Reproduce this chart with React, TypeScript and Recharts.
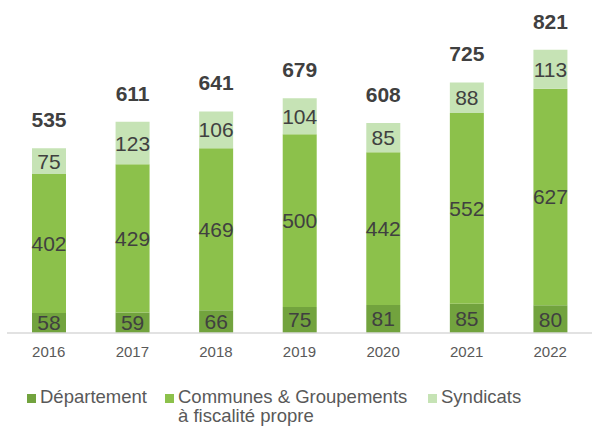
import React from 'react';
import { BarChart, Bar, XAxis, YAxis, LabelList, Legend } from 'recharts';

const years = ['2016', '2017', '2018', '2019', '2020', '2021', '2022'];
const departement = [58, 59, 66, 75, 81, 85, 80];
const communes = [402, 429, 469, 500, 442, 552, 627];
const syndicats = [75, 123, 106, 104, 85, 88, 113];
const totals = [535, 611, 641, 679, 608, 725, 821];

const seriesNames = ['Département', 'Communes & Groupements', 'Syndicats'];
const COLORS = ['#72A33E', '#8CC14B', '#C6E3B5'];

const data = years.map((y, i) => ({
  year: y,
  dep: departement[i],
  com: communes[i],
  syn: syndicats[i],
  total: totals[i],
}));

const FONT = '"Liberation Sans", Arial, sans-serif';

const LegendContent = () => {
  const items = [
    { left: 27, lines: [seriesNames[0]], color: COLORS[0] },
    { left: 165, lines: [seriesNames[1], 'à fiscalité propre'], color: COLORS[1] },
    { left: 428, lines: [seriesNames[2]], color: COLORS[2] },
  ];
  return (
    <div style={{ position: 'relative', width: 597, height: 72, fontFamily: FONT }}>
      {items.map((it, i) => (
        <div key={i}>
          <div
            style={{
              position: 'absolute',
              left: it.left,
              top: 31,
              width: 9,
              height: 9,
              background: it.color,
            }}
          />
          <div
            style={{
              position: 'absolute',
              left: it.left + 13,
              top: 24,
              fontSize: 18.5,
              lineHeight: '19px',
              color: '#595959',
              whiteSpace: 'nowrap',
            }}
          >
            {it.lines.map((l, j) => (
              <div key={j}>{l}</div>
            ))}
          </div>
        </div>
      ))}
    </div>
  );
};

export default function App() {
  return (
    <div style={{ position: 'absolute', left: 0, top: 0 }}>
      <BarChart
        width={597}
        height={435}
        data={data}
        margin={{ top: 22, right: 5, bottom: 0, left: 7 }}
        style={{ fontFamily: FONT }}
      >
        <XAxis
          dataKey="year"
          height={30}
          tickLine={false}
          tickMargin={7}
          axisLine={{ stroke: '#d9d9d9', strokeWidth: 1.5 }}
          tick={{ fill: '#595959', fontSize: 15 }}
        />
        <YAxis hide domain={[0, 900]} />
        <Legend
          verticalAlign="bottom"
          content={<LegendContent />}
          wrapperStyle={{ left: 0, bottom: 0, width: 597, height: 72 }}
        />
        <Bar dataKey="dep" name={seriesNames[0]} stackId="a" fill={COLORS[0]} barSize={34} isAnimationActive={false}>
          <LabelList dataKey="dep" position="center" fill="#404040" fontSize={21} />
        </Bar>
        <Bar dataKey="com" name={seriesNames[1]} stackId="a" fill={COLORS[1]} barSize={34} isAnimationActive={false}>
          <LabelList dataKey="com" position="center" fill="#404040" fontSize={21} />
        </Bar>
        <Bar dataKey="syn" name={seriesNames[2]} stackId="a" fill={COLORS[2]} barSize={34} isAnimationActive={false}>
          <LabelList dataKey="syn" position="center" fill="#404040" fontSize={21} />
          <LabelList dataKey="total" position="top" offset={21} fill="#404040" fontSize={21} fontWeight="bold" />
        </Bar>
      </BarChart>
    </div>
  );
}
